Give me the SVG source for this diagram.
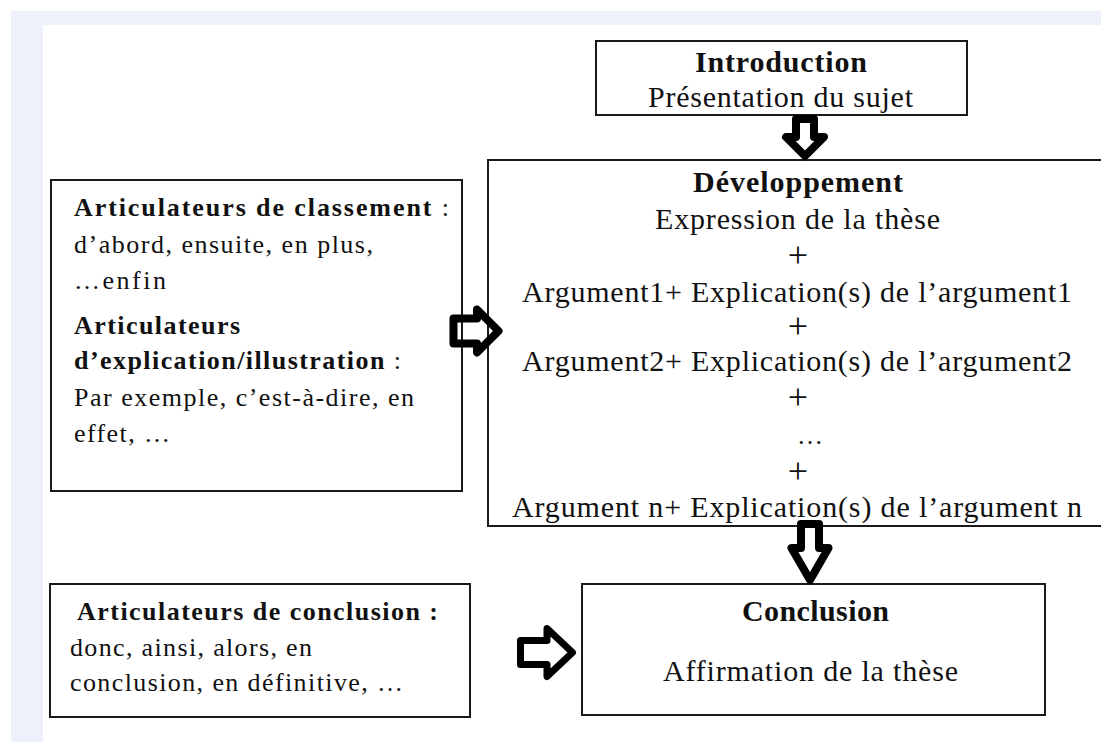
<svg xmlns="http://www.w3.org/2000/svg" width="1101" height="742" viewBox="0 0 1101 742">
<style>
.box{fill:#fff;stroke:#1a1a1a;stroke-width:2}
.t{font-family:"Liberation Serif","Times New Roman",serif;fill:#111}
.b{font-weight:bold}
.big{font-size:30px}
.sm{font-size:26px}
.plus{font-size:36px}
.arr{stroke:#000;stroke-width:8;stroke-linejoin:round}
.down{fill:#fff}
.right{fill:none}
</style>
<rect x="0" y="0" width="1101" height="742" fill="#fff"/>
<rect x="11" y="11" width="1090" height="731" fill="#edf2fa"/>
<rect x="43" y="25" width="1058" height="717" fill="#fff"/>

<g id="introduction">
<rect class="box" x="596" y="41" width="371" height="74"/>
<text class="t b big" x="695" y="72" textLength="172">Introduction</text>
<text class="t big" x="648" y="107" textLength="265">Présentation du sujet</text>
</g>

<g id="developpement">
<rect class="box" x="488" y="160" width="700" height="366"/>
<text class="t b big" x="693" y="192" textLength="210">Développement</text>
<text class="t big" x="655" y="229" textLength="285">Expression de la thèse</text>
<text class="t plus" x="798" y="267" text-anchor="middle">+</text>
<text class="t big" x="522" y="302" textLength="550">Argument1+ Explication(s)  de l’argument1</text>
<text class="t plus" x="798" y="338" text-anchor="middle">+</text>
<text class="t big" x="522" y="371" textLength="550">Argument2+ Explication(s)  de l’argument2</text>
<text class="t plus" x="798" y="409" text-anchor="middle">+</text>
<text class="t sm" x="810" y="444" text-anchor="middle">…</text>
<text class="t plus" x="798" y="483" text-anchor="middle">+</text>
<text class="t big" x="512" y="517" textLength="570">Argument n+ Explication(s)  de l’argument n</text>
</g>

<g id="articulateurs-classement">
<rect class="box" x="51" y="180" width="411" height="311"/>
<text class="t sm" x="74" y="216" textLength="375"><tspan class="b">Articulateurs de classement</tspan> :</text>
<text class="t sm" x="74" y="253" textLength="299">d’abord, ensuite, en plus,</text>
<text class="t sm" x="74" y="289" textLength="92">…enfin</text>
<text class="t b sm" x="74" y="334" textLength="166">Articulateurs</text>
<text class="t sm" x="74" y="369" textLength="327"><tspan class="b">d’explication/illustration</tspan> :</text>
<text class="t sm" x="74" y="406" textLength="340">Par exemple, c’est-à-dire, en</text>
<text class="t sm" x="74" y="442" textLength="96">effet, …</text>
</g>

<g id="articulateurs-conclusion">
<rect class="box" x="50" y="584" width="420" height="133"/>
<text class="t b sm" x="77" y="620" textLength="361">Articulateurs de conclusion :</text>
<text class="t sm" x="70" y="656" textLength="242">donc, ainsi, alors, en</text>
<text class="t sm" x="70" y="691" textLength="333">conclusion, en définitive, …</text>
</g>

<g id="conclusion">
<rect class="box" x="582" y="584" width="463" height="131"/>
<text class="t b big" x="742" y="621" textLength="147">Conclusion</text>
<text class="t big" x="663" y="681" textLength="295">Affirmation de la thèse</text>
</g>

<g id="connectors">
<polygon class="arr down" points="796,119 814,119 814,137 824,137 805,156 786,137 796,137"/>
<polygon class="arr down" points="801,524 819,524 819,548 828.5,548 810,580 791.5,548 801,548"/>
<polygon class="arr right" points="453.5,318.5 477,318.5 477,309.5 498.5,331 477,352.5 477,343.5 453.5,343.5"/>
<polygon class="arr right" style="stroke-width:7" points="520.5,640.5 547,640.5 547,628.5 572.5,652.5 547,676.5 547,664.5 520.5,664.5"/>
</g>
</svg>
